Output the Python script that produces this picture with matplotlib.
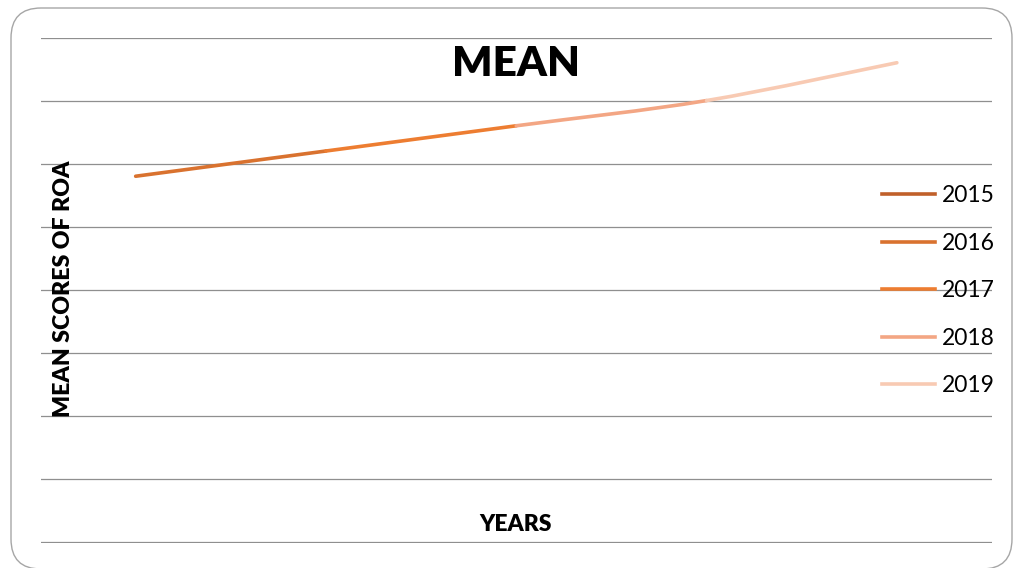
import numpy as np
import matplotlib
matplotlib.use("Agg")
import matplotlib.pyplot as plt
from matplotlib.path import Path
from matplotlib.patches import PathPatch, FancyBboxPatch
from matplotlib.lines import Line2D

plt.rcParams['font.family'] = ['Lato', 'DejaVu Sans']

# mean ROA score per year
years = ["2015", "2016", "2017", "2018", "2019"]
mean_roa = [5.8, 6.2, 6.6, 7.0, 7.6]
year_colors = ["#C0602A", "#D9722F", "#ED7D31", "#F3A684", "#F8CAB3"]

W, H = 1017, 568


def bezier_segment(x, y, i):
    # smoothed piece between point i and i+1 (catmull-rom style tangents)
    n = len(x)
    p0 = np.array([x[max(i - 1, 0)], y[max(i - 1, 0)]])
    p1 = np.array([x[i], y[i]])
    p2 = np.array([x[i + 1], y[i + 1]])
    p3 = np.array([x[min(i + 2, n - 1)], y[min(i + 2, n - 1)]])
    c1 = p1 + (p2 - p0) / 6.0
    c2 = p2 - (p3 - p1) / 6.0
    return Path([p1, c1, c2, p2],
                [Path.MOVETO, Path.CURVE4, Path.CURVE4, Path.CURVE4])


fig = plt.figure(figsize=(W / 100, H / 100), dpi=100)

# rounded chart border
border = FancyBboxPatch((0.11, -0.01), 10.01, 5.61,
                        boxstyle="round,pad=0,rounding_size=0.3",
                        transform=fig.dpi_scale_trans, fill=False,
                        edgecolor="#a6a6a6", lw=1.0)
fig.patches.append(border)

ax = fig.add_axes([40.5 / W, (H - 543) / H, (992 - 40.5) / W, (543 - 37.5) / H])
ax.set_xlim(-0.5, len(years) - 0.5)
ax.set_ylim(-0.016, 8)
ax.set_yticks(np.arange(0, 9, 1))
ax.set_xticks([])
ax.grid(axis='y', color="#8f8f8f", lw=0.9)
ax.tick_params(left=False, labelleft=False)
for s in ax.spines.values():
    s.set_visible(False)
ax.set_axisbelow(True)

xs = np.arange(len(years))
for i in range(len(years) - 1):
    seg = bezier_segment(xs, mean_roa, i)
    ax.add_patch(PathPatch(seg, fill=False, edgecolor=year_colors[i + 1],
                           lw=2.6, capstyle='round', zorder=3))

handles = [Line2D([], [], color=c, lw=2.6) for c in year_colors]
fig.legend(handles, years, loc='upper left',
           bbox_to_anchor=(882 / W, 1 - 185 / H), frameon=False,
           fontsize=16.5, handlelength=2.3, handletextpad=0.3,
           labelspacing=1.16, borderpad=0, borderaxespad=0)

fig.text(516 / W, 1 - 76 / H, "MEAN", ha='center', va='baseline',
         fontsize=30.5, fontweight='heavy')
fig.text(516 / W, 1 - 531 / H, "YEARS", ha='center', va='baseline',
         fontsize=16.5, fontweight='heavy')
fig.text(70 / W, 1 - 289 / H, "MEAN SCORES OF ROA", ha='center',
         va='baseline', rotation=90, rotation_mode='anchor',
         fontsize=16.7, fontweight='heavy')

fig.savefig("out.png", dpi=100)
